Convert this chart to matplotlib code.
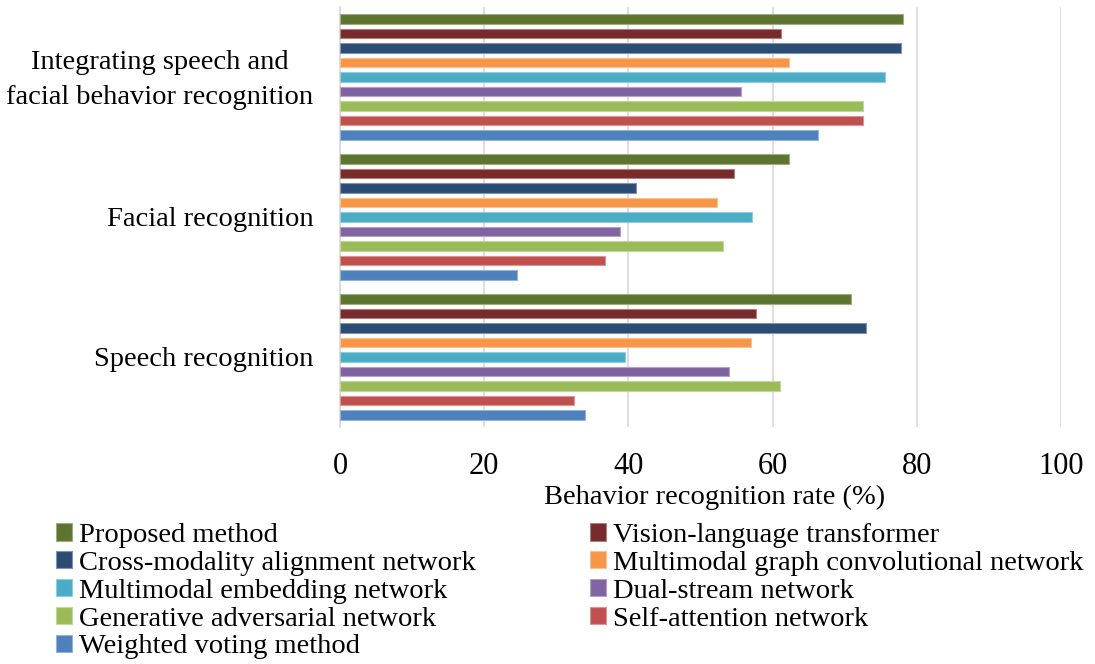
import matplotlib
matplotlib.use("Agg")
import matplotlib.pyplot as plt
import matplotlib.colors as mcolors
import matplotlib.transforms as mtransforms
import numpy as np

categories = ["Speech recognition", "Facial recognition",
              "Integrating speech and\nfacial behavior recognition"]
series_names = ["Proposed method", "Vision-language transformer",
                "Cross-modality alignment network", "Multimodal graph convolutional network",
                "Multimodal embedding network", "Dual-stream network",
                "Generative adversarial network", "Self-attention network",
                "Weighted voting method"]
colors = ["#5E7530", "#772B2B", "#2B4C74", "#F79646", "#4BACC6",
          "#8064A2", "#9BBB59", "#C0504D", "#4F81BD"]
# values per series: [Speech, Facial, Integrating]
proposed = [70.9, 62.3, 78.1]
vlt = [57.7, 54.6, 61.1]
cman = [72.9, 41.1, 77.8]
mgcn = [57.0, 52.3, 62.3]
men = [39.5, 57.1, 75.6]
dsn = [54.0, 38.8, 55.6]
gan = [61.0, 53.1, 72.6]
san = [32.5, 36.8, 72.6]
wvm = [34.0, 24.6, 66.3]
values = [proposed, vlt, cman, mgcn, men, dsn, gan, san, wvm]
xticks = [0, 20, 40, 60, 80, 100]

plt.rcParams['font.family'] = ['Liberation Serif', 'DejaVu Serif']
FS = 20.5
TFS = 22

fig = plt.figure(figsize=(10.95, 6.64), dpi=100)
ax = fig.add_axes([340/1095, 1-427/664, (1061-340)/1095, (427-7)/664])

slot = 0.1036
h = 0.069
ypos = np.arange(len(categories))
handles = []
for i, (name, vals, c) in enumerate(zip(series_names, values, colors)):
    edge = mcolors.to_rgba(c)
    edge = tuple(0.6*e + 0.4 for e in edge[:3]) + (1.0,)
    b = ax.barh(ypos + (4 - i)*slot, vals, height=h, color=c,
                edgecolor=edge, linewidth=0.8, label=name, zorder=3)
    handles.append(b)

ax.set_xlim(0, 100)
ax.set_ylim(-0.5, 2.5)
ax.set_xticks(xticks)
ax.set_xticklabels([str(t) for t in xticks], fontsize=TFS)
ax.set_yticks(ypos)
ax.set_yticklabels(categories, fontsize=FS)
ax.tick_params(axis='y', length=0, pad=19)
ax.tick_params(axis='x', length=0, pad=18)
for tick in ax.yaxis.get_major_ticks():
    lab = tick.label1
    lab.set_multialignment('center')
    lab.set_linespacing(1.5)
    if "\n" in lab.get_text():
        lab.set_verticalalignment('center')
        lab.set_transform(lab.get_transform() +
                          mtransforms.ScaledTranslation(0, -2/72, fig.dpi_scale_trans))
ax.grid(axis='x', color='#D9D9D9', linewidth=1.2, zorder=0)
for s in ['top', 'right', 'bottom']:
    ax.spines[s].set_visible(False)
ax.spines['left'].set_color('#D9D9D9')
ax.spines['left'].set_linewidth(1.2)

ax.set_xlabel("Behavior recognition rate (%)", fontsize=FS)
ax.xaxis.set_label_coords((715-340)/721, -0.137)

order = [0, 2, 4, 6, 8, 1, 3, 5, 7]
leg = fig.legend([handles[k] for k in order], [series_names[k] for k in order],
                 ncol=2, loc='upper left', bbox_to_anchor=(56/1095, 1-523/664),
                 frameon=False, fontsize=FS, handlelength=0.55, handleheight=0.55,
                 handletextpad=0.25, labelspacing=0.1, columnspacing=4.03,
                 borderpad=0, borderaxespad=0)

fig.savefig("out.png", dpi=100)
